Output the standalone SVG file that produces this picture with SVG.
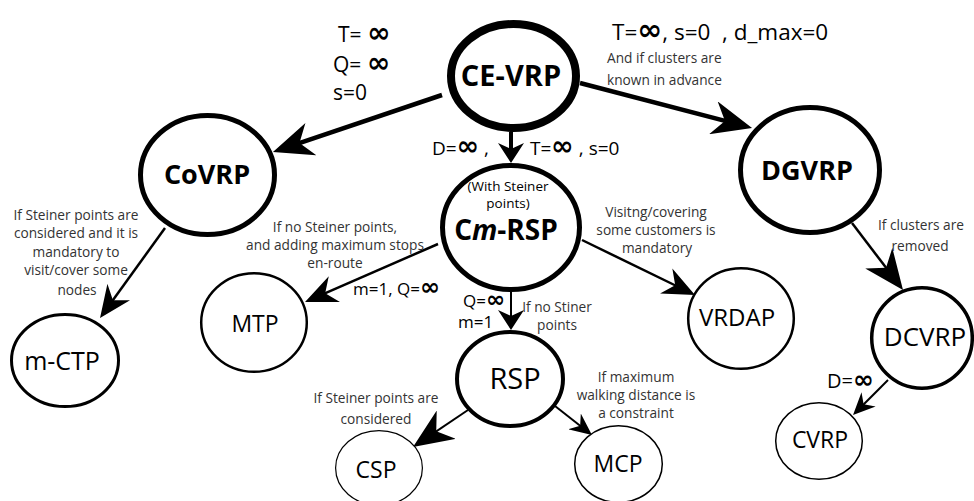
<svg xmlns="http://www.w3.org/2000/svg" width="974" height="501" viewBox="0 0 974 501">
<style>
text{font-family:"Open Sans","Noto Sans",sans-serif;fill:#000}
.n{fill:#fff;stroke:#000}
.b{font-weight:700}
.c{text-anchor:middle}
.l{font-size:13.7px;fill:#333}
.inf{font-family:"DejaVu Sans",sans-serif;font-weight:700}
.a{fill:none;stroke:#000}
</style>
<defs>
<marker id="big" markerUnits="userSpaceOnUse" orient="auto" viewBox="-20 -17 40 34" markerWidth="40" markerHeight="34" refX="0" refY="0"><path d="M20,0 L-20,-17 L-8,0 L-20,17Z"/></marker>
<marker id="med" markerUnits="userSpaceOnUse" orient="auto" viewBox="-16 -14 32 28" markerWidth="32" markerHeight="28" refX="0" refY="0"><path d="M16,0 L-16,-14 L-6,0 L-16,14Z"/></marker>
<marker id="small" markerUnits="userSpaceOnUse" orient="auto" viewBox="-11 -10 22 20" markerWidth="22" markerHeight="20" refX="0" refY="0"><path d="M11,0 L-11,-10 L-4,0 L-11,10Z"/></marker>
<marker id="short" markerUnits="userSpaceOnUse" orient="auto" viewBox="-10 -13 20 26" markerWidth="20" markerHeight="26" refX="0" refY="0"><path d="M10,0 L-10,-13 L-4,0 L-10,13Z"/></marker>
</defs>

<g id="connectors">
<line class="a" x1="442" y1="95" x2="291.9" y2="145.6" stroke-width="4.5" marker-end="url(#big)"/>
<line class="a" x1="580" y1="83" x2="732.7" y2="122.9" stroke-width="4.5" marker-end="url(#big)"/>
<line class="a" x1="511" y1="132" x2="511" y2="153" stroke-width="4" marker-end="url(#short)"/>
<line class="a" x1="165" y1="228" x2="109.4" y2="305" stroke-width="2.5" marker-end="url(#med)"/>
<line class="a" x1="438" y1="244" x2="319.7" y2="295.6" stroke-width="2.5" marker-end="url(#med)"/>
<line class="a" x1="582" y1="240" x2="680.6" y2="288" stroke-width="2.5" marker-end="url(#med)"/>
<line class="a" x1="511" y1="292" x2="511" y2="320" stroke-width="2" marker-end="url(#short)"/>
<line class="a" x1="852" y1="223" x2="890.9" y2="274.1" stroke-width="2.5" marker-end="url(#big)"/>
<line class="a" x1="468" y1="410" x2="429.6" y2="435.8" stroke-width="2" marker-end="url(#big)"/>
<line class="a" x1="555" y1="406" x2="583.3" y2="428.2" stroke-width="2" marker-end="url(#small)"/>
<line class="a" x1="888" y1="380" x2="860.8" y2="407.2" stroke-width="2" marker-end="url(#small)"/>
</g>

<g id="CE-VRP">
<ellipse class="n" cx="513.5" cy="76" rx="62.5" ry="52" stroke-width="8"/>
<text class="b c" x="511" y="86" font-size="29">CE-VRP</text>
</g>
<g id="CoVRP">
<ellipse class="n" cx="207.5" cy="175" rx="67" ry="59.5" stroke-width="5"/>
<text class="b c" x="207" y="184" font-size="27">CoVRP</text>
</g>
<g id="DGVRP">
<ellipse class="n" cx="810" cy="170" rx="69.5" ry="62.5" stroke-width="5"/>
<text class="b c" x="807" y="180" font-size="27">DGVRP</text>
</g>
<g id="Cm-RSP">
<ellipse class="n" cx="511" cy="227.5" rx="68.5" ry="62" stroke-width="5"/>
<text class="c" x="508" y="191" font-size="13.5" fill="#333">(With Steiner</text>
<text class="c" x="508" y="208" font-size="13.5" fill="#333">points)</text>
<text class="b c" x="506" y="240" font-size="28">C<tspan font-style="italic">m</tspan>-RSP</text>
</g>
<g id="MTP">
<ellipse class="n" cx="254" cy="322.5" rx="52.8" ry="49.3" stroke-width="2.5"/>
<text class="c" x="255" y="332" font-size="23">MTP</text>
</g>
<g id="VRDAP">
<ellipse class="n" cx="741" cy="318.5" rx="52.8" ry="50.3" stroke-width="2.5"/>
<text class="c" x="737" y="326" font-size="24">VRDAP</text>
</g>
<g id="DCVRP">
<ellipse class="n" cx="922" cy="338" rx="50.3" ry="50.3" stroke-width="3.5"/>
<text class="c" x="925" y="346" font-size="26">DCVRP</text>
</g>
<g id="CVRP">
<ellipse class="n" cx="819" cy="441" rx="43.3" ry="38.3" stroke-width="1.5"/>
<text class="c" x="820" y="448" font-size="23">CVRP</text>
</g>
<g id="RSP">
<ellipse class="n" cx="510" cy="379" rx="53" ry="47" stroke-width="4"/>
<text class="c" x="515" y="389" font-size="29">RSP</text>
</g>
<g id="CSP">
<ellipse class="n" cx="379" cy="468" rx="43.4" ry="37.4" stroke-width="1.2"/>
<text class="c" x="376" y="478" font-size="23">CSP</text>
</g>
<g id="MCP">
<ellipse class="n" cx="618.5" cy="464" rx="43.8" ry="38.3" stroke-width="1.5"/>
<text class="c" x="618" y="472" font-size="23">MCP</text>
</g>
<g id="m-CTP">
<ellipse class="n" cx="65" cy="360.5" rx="53.5" ry="46" stroke-width="3"/>
<text class="c" x="62" y="370" font-size="25">m-CTP</text>
</g>

<g id="labels">
<text x="338" y="42" font-size="21">T= <tspan class="inf" font-size="28">∞</tspan></text>
<text x="333" y="72" font-size="21">Q= <tspan class="inf" font-size="28">∞</tspan></text>
<text x="333" y="100" font-size="21">s=0</text>
<text x="612" y="40" font-size="22.5" xml:space="preserve">T=<tspan class="inf" font-size="30">∞</tspan>, s=0  , d_max=0</text>
<text class="l" x="607" y="63" font-size="15">And if clusters are</text>
<text class="l" x="607" y="85" font-size="15">known in advance</text>
<text x="432" y="155" font-size="19">D=<tspan class="inf" font-size="27">∞</tspan> ,</text>
<text x="530" y="155" font-size="19">T=<tspan class="inf" font-size="27">∞</tspan> , s=0</text>
<text class="l c" x="76" y="220">If Steiner points are</text>
<text class="l c" x="76" y="238">considered and it is</text>
<text class="l c" x="76" y="257">mandatory to</text>
<text class="l c" x="76" y="275">visit/cover some</text>
<text class="l c" x="77" y="295">nodes</text>
<text class="l c" x="335" y="232">If no Steiner points,</text>
<text class="l c" x="335" y="250">and adding maximum stops</text>
<text class="l c" x="335" y="268">en-route</text>
<text x="353" y="295" font-size="17">m=1, Q=<tspan class="inf" font-size="24">∞</tspan></text>
<text x="463" y="307" font-size="17">Q=<tspan class="inf" font-size="23">∞</tspan></text>
<text x="458" y="328" font-size="17">m=1</text>
<text class="l c" x="557" y="312">If no Stiner</text>
<text class="l c" x="557" y="330">points</text>
<text class="l c" x="656" y="217">Visitng/covering</text>
<text class="l c" x="656" y="235">some customers is</text>
<text class="l c" x="657" y="253">mandatory</text>
<text class="l c" x="921" y="230" font-size="15.3">If clusters are</text>
<text class="l c" x="920" y="251" font-size="15.3">removed</text>
<text x="827" y="388" font-size="20">D=<tspan class="inf" font-size="25">∞</tspan></text>
<text class="l c" x="376" y="403" font-size="15.3">If Steiner points are</text>
<text class="l c" x="376" y="424" font-size="15.3">considered</text>
<text class="l c" x="636" y="382">If maximum</text>
<text class="l c" x="636" y="400">walking distance is</text>
<text class="l c" x="636" y="418">a constraint</text>
</g>
</svg>
